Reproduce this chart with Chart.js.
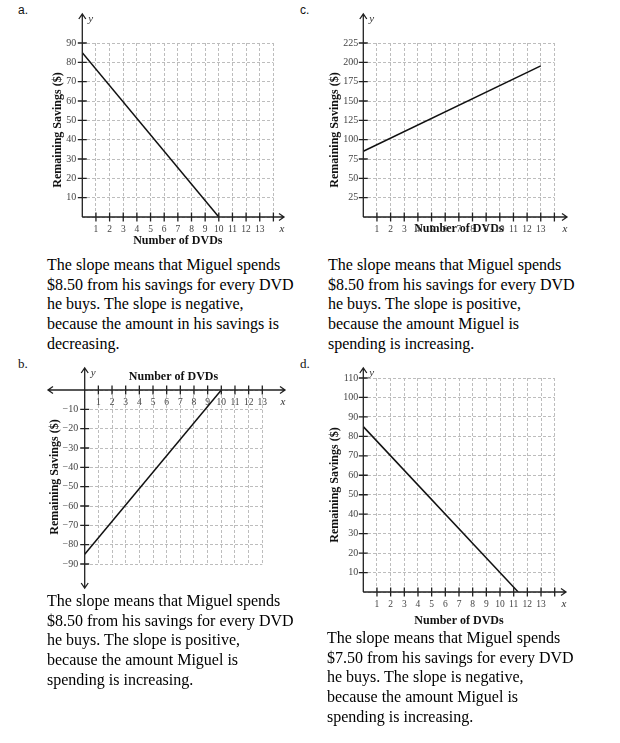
<!DOCTYPE html>
<html>
<head>
<meta charset="utf-8">
<script src="https://cdn.jsdelivr.net/npm/chart.js@4.4.1/dist/chart.umd.min.js"></script>
<style>
  body { margin: 0; width: 620px; height: 743px; position: relative; background: #fff; overflow: hidden; }
  canvas { position: absolute; }
  .txt { position: absolute; font: 16px/19.7px "Liberation Serif", serif; color: #000; white-space: nowrap; }
  .tag { position: absolute; font: 12px "Liberation Sans", sans-serif; color: #111; }
  .tag.serif { font: 13px "Liberation Serif", serif; }
</style>
</head>
<body>
<div class="tag" style="left:18px;top:3px">a.</div>
<div class="tag" style="left:300px;top:3px">c.</div>
<div class="tag serif" style="left:18px;top:356px">b.</div>
<div class="tag serif" style="left:300px;top:356px">d.</div>

<canvas id="chartA" width="310" height="250" style="left:0;top:0"></canvas>
<canvas id="chartC" width="310" height="250" style="left:310px;top:0"></canvas>
<canvas id="chartB" width="310" height="240" style="left:0;top:355px"></canvas>
<canvas id="chartD" width="310" height="280" style="left:310px;top:355px"></canvas>

<div class="txt" style="left:47px;top:255px">The slope means that Miguel spends<br>$8.50 from his savings for every DVD<br>he buys. The slope is negative,<br>because the amount in his savings is<br>decreasing.</div>
<div class="txt" style="left:328px;top:255px">The slope means that Miguel spends<br>$8.50 from his savings for every DVD<br>he buys. The slope is positive,<br>because the amount Miguel is<br>spending is increasing.</div>
<div class="txt" style="left:47px;top:591px">The slope means that Miguel spends<br>$8.50 from his savings for every DVD<br>he buys. The slope is positive,<br>because the amount Miguel is<br>spending is increasing.</div>
<div class="txt" style="left:327px;top:628px">The slope means that Miguel spends<br>$7.50 from his savings for every DVD<br>he buys. The slope is negative,<br>because the amount Miguel is<br>spending is increasing.</div>

<script>
// line end points for each graph (number of DVDs, remaining savings)
const aDvds = [0, 10];
const aSavings = [85, 0];
const bDvds = [0, 10];
const bSavings = [-85, 0];
const cDvds = [0, 13];
const cSavings = [85, 195.5];
const dDvds = [0, 11.33];
const dSavings = [85, 0];

// tick labels
const dvdLabels = [1, 2, 3, 4, 5, 6, 7, 8, 9, 10, 11, 12, 13];
const aYLabels = [10, 20, 30, 40, 50, 60, 70, 80, 90];
const bYLabels = [-10, -20, -30, -40, -50, -60, -70, -80, -90];
const cYLabels = [25, 50, 75, 100, 125, 150, 175, 200, 225];
const dYLabels = [10, 20, 30, 40, 50, 60, 70, 80, 90, 100, 110];

const serif = '"Liberation Serif", "Times New Roman", serif';

// axis lines through the origin, crossing tick marks, arrow heads, x / y letters
const axesPlugin = {
    id: 'axes',
    afterDatasetsDraw(chart, args, o) {
        const { ctx, scales: { x, y } } = chart;
        const ox = x.getPixelForValue(0);
        const oy = y.getPixelForValue(0);
        const xl = o.left ? x.left - o.left : ox;
        const xr = x.right + o.right;
        const yt = y.top - o.top;
        const yb = o.bottom ? y.bottom + o.bottom : oy;

        ctx.save();
        ctx.strokeStyle = '#222';
        ctx.lineWidth = 1.3;
        ctx.beginPath();
        ctx.moveTo(xl, oy); ctx.lineTo(xr, oy);
        ctx.moveTo(ox, yb); ctx.lineTo(ox, yt);
        x.ticks.forEach(t => {
            if (t.value === 0) return;
            const px = x.getPixelForValue(t.value);
            ctx.moveTo(px, oy - 4.5); ctx.lineTo(px, oy + 4.5);
        });
        y.ticks.forEach(t => {
            if (t.value === 0) return;
            const py = y.getPixelForValue(t.value);
            ctx.moveTo(ox - 4.5, py); ctx.lineTo(ox + 4.5, py);
        });
        const head = (px, py, dx, dy) => {
            ctx.moveTo(px - dx * 5 - dy * 3.5, py - dy * 5 + dx * 3.5);
            ctx.lineTo(px, py);
            ctx.lineTo(px - dx * 5 + dy * 3.5, py - dy * 5 - dx * 3.5);
        };
        head(xr, oy, 1, 0);
        head(ox, yt, 0, -1);
        if (o.left) head(xl, oy, -1, 0);
        if (o.bottom) head(ox, yb, 0, 1);
        ctx.stroke();

        ctx.fillStyle = '#333';
        ctx.font = 'italic 11px ' + serif;
        ctx.textBaseline = 'middle';
        ctx.textAlign = 'left';
        ctx.fillText('y', ox + 6, yt + 5);
        ctx.textAlign = 'center';
        ctx.fillText('x', xr - 2, oy + 12.5);
        ctx.restore();
    }
};

function fmt(v) {
    return v < 0 ? '\u2212' + (-v) : String(v);
}

function drawGraph(id, cfg) {
    new Chart(document.getElementById(id), {
        type: 'scatter',
        data: {
            datasets: [{
                data: cfg.xs.map((x, i) => ({ x: x, y: cfg.ys[i] })),
                showLine: true,
                borderColor: '#111',
                borderWidth: 1.5,
                pointRadius: 0
            }]
        },
        options: {
            responsive: false,
            animation: false,
            layout: { padding: cfg.pad },
            plugins: {
                legend: { display: false },
                tooltip: { enabled: false },
                axes: cfg.arrows
            },
            scales: {
                x: {
                    type: 'linear',
                    position: cfg.xPos,
                    min: 0,
                    max: cfg.xMax,
                    afterFit: s => { s.height = cfg.xH; },
                    ticks: {
                        stepSize: 1,
                        autoSkip: false,
                        maxRotation: 0,
                        padding: cfg.xTickPad,
                        color: '#444',
                        font: { family: serif, size: 9.5 },
                        callback: v => dvdLabels.includes(v) ? String(v) : ''
                    },
                    grid: { color: '#bdbdbd', drawTicks: false },
                    border: { display: false, dash: [3, 2] },
                    title: {
                        display: true,
                        text: 'Number of DVDs',
                        color: '#111',
                        font: { family: serif, size: 12, weight: 'bold' },
                        padding: cfg.xTitlePad
                    }
                },
                y: {
                    type: 'linear',
                    min: cfg.yMin,
                    max: cfg.yMax,
                    afterFit: s => { s.width = cfg.yW; },
                    ticks: {
                        stepSize: cfg.yStep,
                        autoSkip: false,
                        padding: cfg.yTickPad,
                        color: '#444',
                        font: { family: serif, size: 10 },
                        callback: v => cfg.yLabels.includes(v) ? fmt(v) : ''
                    },
                    grid: { color: '#bdbdbd', drawTicks: false },
                    border: { display: false, dash: [3, 2] },
                    title: {
                        display: true,
                        text: 'Remaining Savings ($)',
                        color: '#111',
                        font: { family: serif, size: 12, weight: 'bold' },
                        padding: { top: cfg.yTitlePad, bottom: 0 }
                    }
                }
            }
        },
        plugins: [axesPlugin]
    });
}

drawGraph('chartA', {
    xs: aDvds, ys: aSavings, yLabels: aYLabels,
    xMax: 14, yMin: 0, yMax: 90, yStep: 10,
    xPos: 'bottom',
    pad: { top: 43, right: 36.6, bottom: 0, left: 0 },
    xH: 33, yW: 82.3,
    xTickPad: 6.3, yTickPad: 6,
    xTitlePad: { top: 0, bottom: 1.8 }, yTitlePad: 50.5,
    arrows: { top: 29, right: 10.6 }
});

drawGraph('chartC', {
    xs: cDvds, ys: cSavings, yLabels: cYLabels,
    xMax: 14, yMin: 0, yMax: 225, yStep: 25,
    xPos: 'bottom',
    pad: { top: 43, right: 65.6, bottom: 0, left: 0 },
    xH: 33, yW: 53.3,
    xTickPad: 6.3, yTickPad: 5,
    xTitlePad: { top: 0, bottom: 13.8 }, yTitlePad: 17.8,
    arrows: { top: 29, right: 12.6 }
});

drawGraph('chartB', {
    xs: bDvds, ys: bSavings, yLabels: bYLabels,
    xMax: 13, yMin: -90, yMax: 0, yStep: 10,
    xPos: { y: 0 },
    pad: { top: 35, right: 47.7, bottom: 31, left: 0 },
    xH: 0, yW: 84.7,
    xTickPad: 7, yTickPad: 6.5,
    xTitlePad: { top: 0, bottom: 6.1 }, yTitlePad: 47.8,
    arrows: { top: 22, right: 22.7, left: 36.7, bottom: 24 }
});

drawGraph('chartD', {
    xs: dDvds, ys: dSavings, yLabels: dYLabels,
    xMax: 14, yMin: 0, yMax: 110, yStep: 10,
    xPos: 'bottom',
    pad: { top: 23, right: 65.3, bottom: 0, left: 0 },
    xH: 43, yW: 53.3,
    xTickPad: 6.6, yTickPad: 5,
    xTitlePad: { top: 0, bottom: 6.8 }, yTitlePad: 17.8,
    arrows: { top: 10, right: 11.3 }
});
</script>
</body>
</html>
